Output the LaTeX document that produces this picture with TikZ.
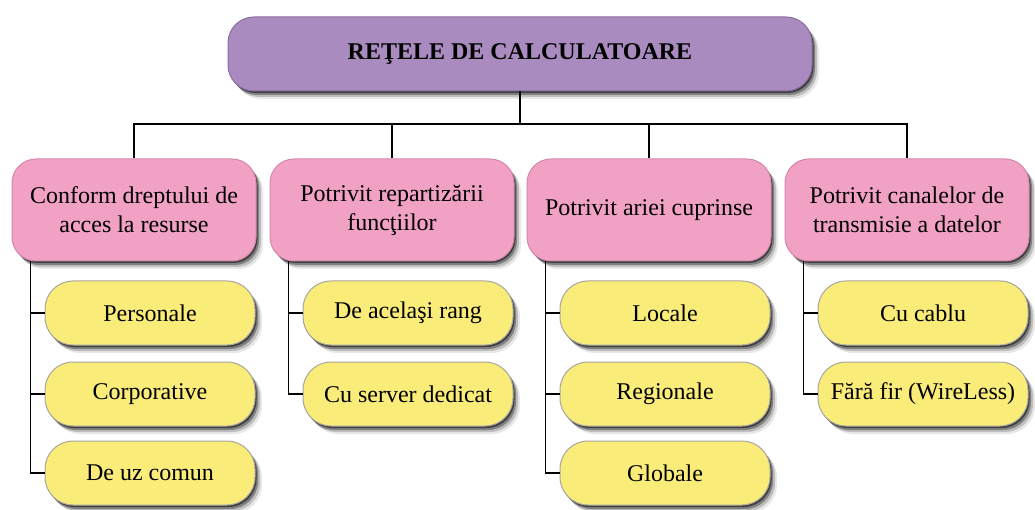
\documentclass[tikz,border=0pt]{standalone}
\usepackage{fontspec}
\setmainfont{Liberation Serif}
\usetikzlibrary{shadows}
\definecolor{purp}{HTML}{A98BBF}
\definecolor{purpedge}{HTML}{8A6DA1}
\definecolor{pinkc}{HTML}{F1A1C4}
\definecolor{pinkedge}{HTML}{D488AB}
\definecolor{yell}{HTML}{F9EC79}
\definecolor{yelledge}{HTML}{A8A6A0}
\begin{document}
\begin{tikzpicture}[x=1pt,y=-1pt,
  soft/.style={
    drop shadow={shadow xshift=1.5pt,shadow yshift=-2pt,opacity=.5,fill=black},
    drop shadow={shadow xshift=3pt,shadow yshift=-4pt,opacity=.32,fill=black},
    drop shadow={shadow xshift=5pt,shadow yshift=-6pt,opacity=.18,fill=black},
    drop shadow={shadow xshift=7pt,shadow yshift=-8pt,opacity=.09,fill=black}},
  txt/.style={font=\fontsize{24}{29}\selectfont, align=center, inner sep=0pt, text=black},
  titlebox/.style={soft, txt, fill=purp, draw=purpedge, line width=1pt, rounded corners=26pt,
    minimum width=584pt, minimum height=74pt, font=\fontsize{24}{29}\selectfont\bfseries},
  catbox/.style={soft, txt, fill=pinkc, draw=pinkedge, line width=1pt, rounded corners=24pt,
    minimum width=244pt, minimum height=102pt},
  itembox/.style={soft, txt, fill=yell, draw=yelledge, line width=1pt, rounded corners=28pt,
    minimum width=210pt, minimum height=64pt},
  conn/.style={draw=black, line width=1.6pt}
]
\useasboundingbox[fill=white] (0,0) rectangle (1035,510);

\node[titlebox] (root) at (520,54) {REŢELE DE CALCULATOARE};

\node[catbox] (p1) at (134,210) {Conform dreptului de\\acces la resurse};
\node[catbox] (p2) at (392,210) {Potrivit repartizării\\funcţiilor};
\node[catbox] (p3) at (649,210) {Potrivit ariei cuprinse};
\node[catbox] (p4) at (907,210) {Potrivit canalelor de\\transmisie a datelor};

\node[itembox] (a1) at (150,313) {Personale};
\node[itembox] (a2) at (150,394) {Corporative};
\node[itembox] (a3) at (150,473) {De uz comun};

\node[itembox] (b1) at (408,313) {De acelaşi rang};
\node[itembox] (b2) at (408,394) {Cu server dedicat};

\node[itembox] (c1) at (665,313) {Locale};
\node[itembox] (c2) at (665,394) {Regionale};
\node[itembox] (c3) at (665,473) {Globale};

\node[itembox] (d1) at (923,313) {Cu cablu};
\node[itembox] (d2) at (923,394) {Fără fir (WireLess)};

% top connectors
\coordinate (bus) at (520,124);
\draw[conn] (root.south) -- (bus);
\draw[conn] (p1.north) |- (bus) -| (p4.north);
\draw[conn] (p2.north) -- (p2.north |- bus);
\draw[conn] (p3.north) -- (p3.north |- bus);

% child connectors
\coordinate (s1) at ([xshift=-14pt]a1.west |- p1.south);
\coordinate (s2) at ([xshift=-14pt]b1.west |- p2.south);
\coordinate (s3) at ([xshift=-14pt]c1.west |- p3.south);
\coordinate (s4) at ([xshift=-14pt]d1.west |- p4.south);

\draw[conn] (s1) |- (a3.west);
\draw[conn] (s1 |- a1.west) -- (a1.west);
\draw[conn] (s1 |- a2.west) -- (a2.west);

\draw[conn] (s2) |- (b2.west);
\draw[conn] (s2 |- b1.west) -- (b1.west);

\draw[conn] (s3) |- (c3.west);
\draw[conn] (s3 |- c1.west) -- (c1.west);
\draw[conn] (s3 |- c2.west) -- (c2.west);

\draw[conn] (s4) |- (d2.west);
\draw[conn] (s4 |- d1.west) -- (d1.west);
\end{tikzpicture}
\end{document}
